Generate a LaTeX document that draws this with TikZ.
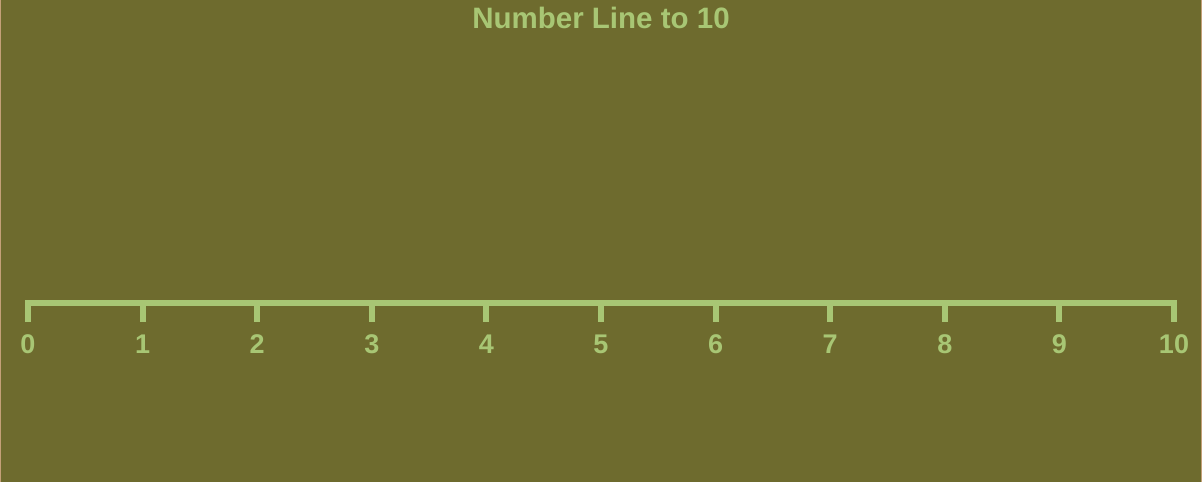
\documentclass[tikz,border=0pt]{standalone}
\usepackage{fontspec}
\setmainfont{Liberation Sans}
\usepackage{tikz}
\usetikzlibrary{positioning}

\definecolor{olivebg}{RGB}{110,107,46}
\definecolor{linegreen}{RGB}{168,198,116}
\definecolor{edgetan}{RGB}{196,160,120}

\begin{document}
\begin{tikzpicture}[x=1pt, y=-1pt,
    every node/.style={inner sep=0pt, text=linegreen, font=\bfseries},
    numlabel/.style={anchor=base, font=\fontsize{27}{27}\selectfont\bfseries}]
    \useasboundingbox (0,0) rectangle (1202,482);
    \fill[olivebg] (0,0) rectangle (1202,482);
    \fill[edgetan] (0,0) rectangle (1,482);
    \fill[edgetan] (1201,0) rectangle (1202,482);
    \node[anchor=base, font=\fontsize{29.5}{29.5}\selectfont\bfseries] (title) at (601,28) {Number Line to 10};
    % the line with its end ticks
    \coordinate (start) at (28,322);
    \coordinate (stop) at (1174,322);
    \draw[linegreen, line width=6pt, miter limit=10] (start) -- (28,303) -- (1174,303) -- (stop);
    \foreach \n in {0,...,10} {
      \coordinate (t\n) at ({28+114.6*\n},303);
      \node[numlabel] (l\n) at ({28+114.6*\n},353) {\n};
    }
    \foreach \n in {1,...,9}
      \draw[linegreen, line width=6pt] (t\n) -- ++(0,19);
  \end{tikzpicture}
\end{document}
